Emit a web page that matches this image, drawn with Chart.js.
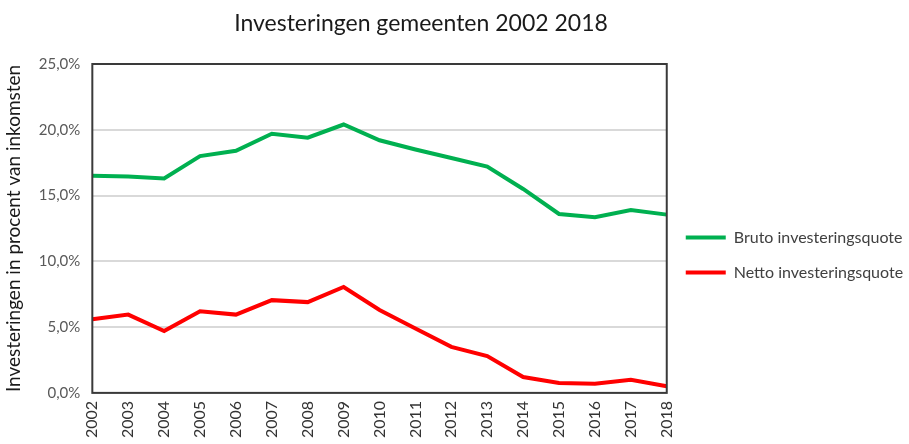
<!DOCTYPE html>
<html>
<head>
<meta charset="utf-8">
<script src="https://cdn.jsdelivr.net/npm/chart.js@4/dist/chart.umd.min.js"></script>
<style>
  html, body { margin: 0; padding: 0; background: #fff; }
  #wrap { width: 909px; height: 444px; }
</style>
</head>
<body>
<div id="wrap"><canvas id="chart"></canvas></div>
<script>
// Jaren en quotes (in procent van inkomsten)
const years = ['2002', '2003', '2004', '2005', '2006', '2007', '2008', '2009', '2010',
               '2011', '2012', '2013', '2014', '2015', '2016', '2017', '2018'];
const brutoQuote = [16.5, 16.45, 16.3, 18.0, 18.4, 19.7, 19.4, 20.4, 19.2,
                    18.5, 17.85, 17.2, 15.5, 13.6, 13.35, 13.9, 13.55];
const nettoQuote = [5.6, 5.95, 4.7, 6.2, 5.95, 7.05, 6.9, 8.05, 6.3,
                    4.9, 3.5, 2.8, 1.2, 0.75, 0.7, 1.0, 0.5];
const yTicks = [0, 5, 10, 15, 20, 25];

const chartTitle = 'Investeringen gemeenten 2002 2018';
const fontFamily = 'Lato, "Open Sans", sans-serif';

// Draw the frame around the plot area and the title above it
const framePlugin = {
    id: 'frame',
    afterDraw(chart) {
        const ctx = chart.ctx;
        const a = chart.chartArea;
        ctx.save();
        ctx.strokeStyle = '#3a3a3a';
        ctx.lineWidth = 2;
        ctx.strokeRect(a.left, a.top, a.right - a.left, a.bottom - a.top);
        ctx.fillStyle = '#1a1a1a';
        ctx.font = '23px ' + fontFamily;
        ctx.textAlign = 'center';
        ctx.textBaseline = 'middle';
        ctx.fillText(chartTitle, 421, 24);
        ctx.restore();
    }
};

const ctx = document.getElementById('chart').getContext('2d');
new Chart(ctx, {
    type: 'line',
    data: {
        labels: years,
        datasets: [{
            label: 'Bruto investeringsquote',
            data: brutoQuote,
            borderColor: '#00b050',
            backgroundColor: '#00b050',
            borderWidth: 4,
            pointRadius: 0,
            tension: 0
        }, {
            label: 'Netto investeringsquote',
            data: nettoQuote,
            borderColor: '#ff0000',
            backgroundColor: '#ff0000',
            borderWidth: 4,
            pointRadius: 0,
            tension: 0
        }]
    },
    options: {
        responsive: true,
        maintainAspectRatio: false,
        animation: false,
        layout: {
            // negative left padding widens the room the legend may take,
            // the y title padding gives the same space back on the left
            padding: { top: 64, right: 0, bottom: -2, left: -60 }
        },
        scales: {
            x: {
                offset: false,
                grid: { display: false, drawTicks: false },
                border: { display: false },
                ticks: {
                    color: '#333333',
                    font: { family: fontFamily, size: 16 },
                    minRotation: 90,
                    maxRotation: 90,
                    autoSkip: false,
                    padding: 8
                }
            },
            y: {
                min: 0,
                max: 25,
                afterBuildTicks(axis) {
                    axis.ticks = yTicks.map(v => ({ value: v }));
                },
                grid: {
                    color: '#d9d9d9',
                    lineWidth: 2,
                    drawTicks: false
                },
                border: { display: false },
                ticks: {
                    color: '#595959',
                    font: { family: fontFamily, size: 15 },
                    padding: 12,
                    callback: v => v.toFixed(1).replace('.', ',') + '%'
                },
                title: {
                    display: true,
                    text: 'Investeringen in procent van inkomsten',
                    color: '#1a1a1a',
                    font: { family: fontFamily, size: 19 },
                    padding: { top: 62, bottom: 2 }
                }
            }
        },
        plugins: {
            title: { display: false },
            tooltip: { enabled: false },
            legend: {
                display: true,
                position: 'right',
                labels: {
                    // zero-height box so the stroke draws as a short line
                    boxWidth: 40,
                    boxHeight: 0,
                    padding: 19,
                    color: '#404040',
                    font: { family: fontFamily, size: 16 }
                }
            }
        }
    },
    plugins: [framePlugin]
});
</script>
</body>
</html>
